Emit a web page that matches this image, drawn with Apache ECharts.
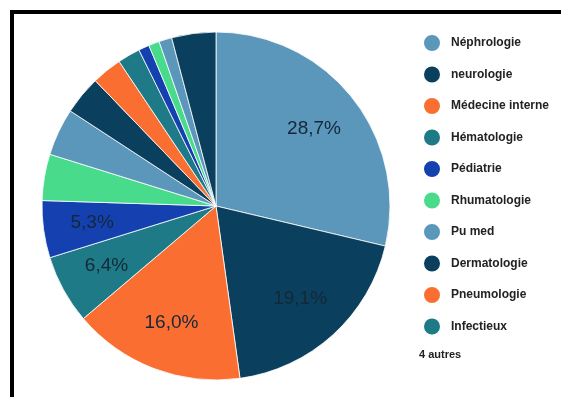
<!DOCTYPE html>
<html><head><meta charset="utf-8">
<script src="https://cdn.jsdelivr.net/npm/echarts@6/dist/echarts.min.js"></script>
<style>html,body{margin:0;padding:0;background:#fff}#c{width:561px;height:397px}</style>
</head><body><div id="c"></div>
<script>
const categories = ['Néphrologie','neurologie','Médecine interne','Hématologie','Pédiatrie','Rhumatologie','Pu med','Dermatologie','Pneumologie','Infectieux','Autre 1','Autre 2','Autre 3','Autre 4'];
const values = [28.7,19.1,16.0,6.4,5.3,4.3,4.4,3.6,2.8,2.1,1.0,1.0,1.2,4.1];
const legendNames = categories.slice(0,10);
const othersLabel = '4 autres';
const palette = ['#5b96bb','#0b3f5e','#fb6e32','#1f7a87','#1541b0','#47db8b'];

const data = categories.map((n,i)=>({name:n,value:values[i]}));
const chart = echarts.init(document.getElementById('c'));
chart.setOption({
  backgroundColor:'#fff',
  color: palette,
  animation:false,
  legend:{
    data: legendNames, orient:'vertical', left:417, top:28, icon:'circle',
    itemWidth:18, itemHeight:18, itemGap:11.5,
    textStyle:{fontFamily:'Liberation Sans, Arial', fontSize:12, fontWeight:'bold', color:'#222', padding:[0,0,0,5]}
  },
  graphic:[
    {type:'rect', shape:{x:12,y:12,width:700,height:600}, style:{fill:'none',stroke:'#000',lineWidth:4}},
    {type:'text', left:419, top:349, style:{text:othersLabel, font:'bold 11px "Liberation Sans", Arial', fill:'#222'}}
  ],
  series:[
    {type:'pie', center:[216,206], radius:174, startAngle:90, clockwise:true,
     data:data, label:{show:false}, labelLine:{show:false},
     itemStyle:{borderColor:'#fff', borderWidth:0.8}},
    {type:'pie', center:[216,206], radius:[70,174], startAngle:90, clockwise:true, silent:true,
     data:data, itemStyle:{color:'rgba(0,0,0,0)'}, labelLine:{show:false},
     label:{position:'inside', fontFamily:'Liberation Sans, Arial', fontSize:19, color:'#14283a',
       formatter:p=> p.value>=5 ? p.value.toFixed(1).replace('.',',')+'%' : ''}}
  ]
});
</script></body></html>
